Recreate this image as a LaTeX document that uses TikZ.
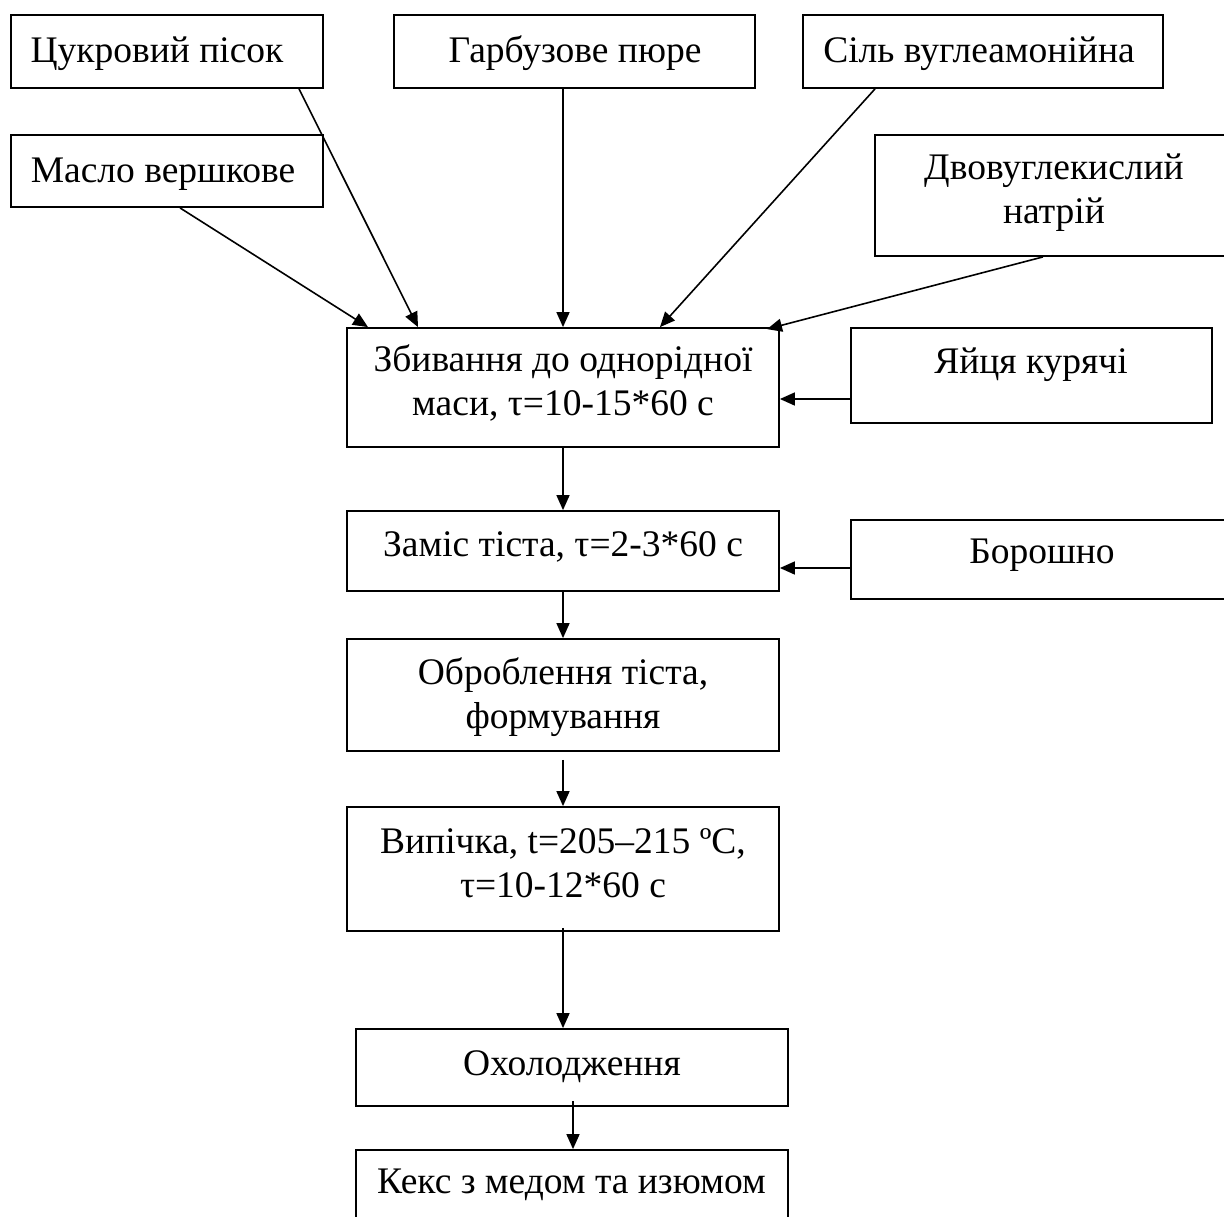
\documentclass[tikz,border=0pt]{standalone}
\usepackage{fontspec}
\setmainfont{Liberation Serif}
\usetikzlibrary{arrows.meta,calc}
\tikzset{
  box/.style={draw, line width=1.8pt, rectangle, inner sep=0pt},
  txt/.style={font=\fontsize{37.5}{43.5}\selectfont, inner sep=0pt, align=center},
  arr/.style={line width=1.6pt, -{Triangle[length=15pt,width=13pt]}}
}
\newcommand\mybox[5]{\node[box, minimum width={#4-#2}, minimum height={#5-#3}] (#1) at ({(#2+#4)/2},{(#3+#5)/2}) {};}
\begin{document}
\begin{tikzpicture}[x=1pt,y=-1pt]
\useasboundingbox (0,0) rectangle (1224,1216);
\clip (0,0) rectangle (1224,1216);
% boxes
\mybox{sugar}{11}{15}{323}{88}
\mybox{butter}{11}{135}{323}{207}
\mybox{pumpkin}{394}{15}{755}{88}
\mybox{salt}{803}{15}{1163}{88}
\mybox{soda}{875}{135}{1244}{256}
\mybox{whip}{347}{328}{779}{447}
\mybox{eggs}{851}{328}{1212}{423}
\mybox{mix}{347}{511}{779}{591}
\mybox{flour}{851}{520}{1244}{599}
\mybox{shape}{347}{639}{779}{751}
\mybox{bake}{347}{807}{779}{931}
\mybox{cool}{356}{1029}{788}{1106}
\mybox{cake}{356}{1150}{788}{1240}
% texts
\node[txt, anchor=base] (sugarT) at (157,62) {Цукровий пісок};
\node[txt, anchor=base] (butterT) at (163,182) {Масло вершкове};
\node[txt, anchor=base] (pumpkinT) at (575,62) {Гарбузове пюре};
\node[txt, anchor=base] (saltT) at (979,62) {Сіль вуглеамонійна};
\node[txt, anchor=base] (sodaT) at (1054,223) {Двовуглекислий\\натрій};
\node[txt, anchor=base] (whipT) at (563,415) {Збивання до однорідної\\маси, τ=10-15*60 с};
\node[txt, anchor=base] (eggsT) at (1031,373) {Яйця курячі};
\node[txt, anchor=base] (mixT) at (563,556) {Заміс тіста, τ=2-3*60 с};
\node[txt, anchor=base] (flourT) at (1042,563) {Борошно};
\node[txt, anchor=base] (shapeT) at (563,728) {Оброблення тіста,\\формування};
\node[txt, anchor=base] (bakeT) at (563,897) {Випічка, t=205–215 ºС,\\τ=10-12*60 с};
\node[txt, anchor=base] (coolT) at (572,1075) {Охолодження};
\node[txt, anchor=base] (cakeT) at (571.5,1193) {Кекс з медом та изюмом};
% connectors
\draw[arr] (butter.south -| 180,0) -- (whip.north -| 368,0);
\draw[arr] (sugar.south -| 299,0) -- (whip.north -| 418,0);
\draw[arr] (pumpkin.south -| 563,0) -- (whip.north -| 563,0);
\draw[arr] (salt.south -| 875,0) -- (whip.north -| 660,0);
\draw[arr] (soda.south -| 1043,0) -- ($(whip.north -| 767,0)+(0,2)$);
\draw[arr] (eggs.west |- 0,399) -- (whip.east |- 0,399);
\draw[arr] (whip.south) -- (mix.north);
\draw[arr] (flour.west |- 0,568) -- (mix.east |- 0,568);
\draw[arr] (mix.south) -- (shape.north);
\draw[arr] ([yshift=-8pt]shape.south) -- (bake.north);
\draw[arr] ([yshift=4pt]bake.south) -- (cool.north -| bake.south);
\draw[arr] ([yshift=6pt]cool.south -| 573,0) -- (cake.north -| 573,0);
\end{tikzpicture}
\end{document}
